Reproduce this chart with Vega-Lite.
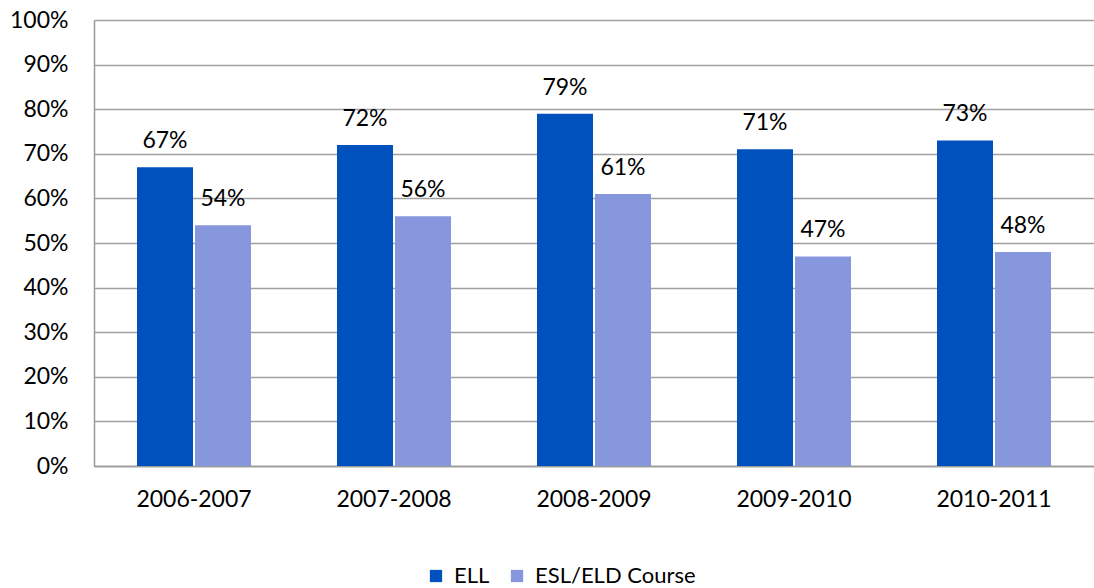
{
  "$schema": "https://vega.github.io/schema/vega-lite/v6.json",
  "width": 1000,
  "height": 446,
  "autosize": {"type": "none"},
  "padding": {"left": 94, "top": 20, "right": 0, "bottom": 122},
  "background": "white",
  "config": {
    "view": {"stroke": null},
    "font": "Lato",
    "text": {"font": "Lato"}
  },
  "data": {
    "values": [
      {"year": "2006-2007", "group": "ELL", "value": 0.67},
      {"year": "2006-2007", "group": "ESL/ELD Course", "value": 0.54},
      {"year": "2007-2008", "group": "ELL", "value": 0.72},
      {"year": "2007-2008", "group": "ESL/ELD Course", "value": 0.56},
      {"year": "2008-2009", "group": "ELL", "value": 0.79},
      {"year": "2008-2009", "group": "ESL/ELD Course", "value": 0.61},
      {"year": "2009-2010", "group": "ELL", "value": 0.71},
      {"year": "2009-2010", "group": "ESL/ELD Course", "value": 0.47},
      {"year": "2010-2011", "group": "ELL", "value": 0.73},
      {"year": "2010-2011", "group": "ESL/ELD Course", "value": 0.48}
    ]
  },
  "encoding": {
    "x": {
      "field": "year", "type": "nominal",
      "scale": {"paddingInner": 0.43, "paddingOuter": 0.215},
      "axis": {
        "title": null, "labelAngle": 0, "labelFontSize": 23, "labelColor": "#000000",
        "labelPadding": 22, "ticks": false, "domainColor": "#999999", "domainWidth": 1.5,
        "grid": false, "labelOverlap": false
      }
    },
    "xOffset": {"field": "group", "type": "nominal", "scale": {"paddingInner": 0.035}},
    "y": {
      "field": "value", "type": "quantitative",
      "scale": {"domain": [0, 1], "nice": false},
      "axis": {
        "title": null, "format": ".0%", "values": [0,0.1,0.2,0.3,0.4,0.5,0.6,0.7,0.8,0.9,1],
        "labelFontSize": 23, "labelColor": "#000000", "labelPadding": 26, "ticks": false,
        "labelOverlap": false,
        "domainColor": "#999999", "domainWidth": 1.5,
        "gridColor": "#a0a0a0", "gridWidth": 1.5
      }
    }
  },
  "layer": [
    {
      "mark": {"type": "bar"},
      "encoding": {
        "color": {
          "field": "group", "type": "nominal",
          "scale": {"domain": ["ELL", "ESL/ELD Course"], "range": ["#0050BE", "#8797DE"]},
          "legend": {
            "title": null, "orient": "none", "direction": "horizontal",
            "legendX": 331, "legendY": 545,
            "symbolType": "square", "symbolSize": 150, "symbolStrokeWidth": 0,
            "labelFontSize": 22, "labelColor": "#000000", "columnPadding": 16, "labelOffset": 7,
            "labelLimit": 400
          }
        }
      }
    },
    {
      "mark": {"type": "text", "baseline": "bottom", "dy": -14, "fontSize": 23, "color": "#000000"},
      "encoding": {
        "text": {"field": "value", "type": "quantitative", "format": ".0%"}
      }
    }
  ]
}
